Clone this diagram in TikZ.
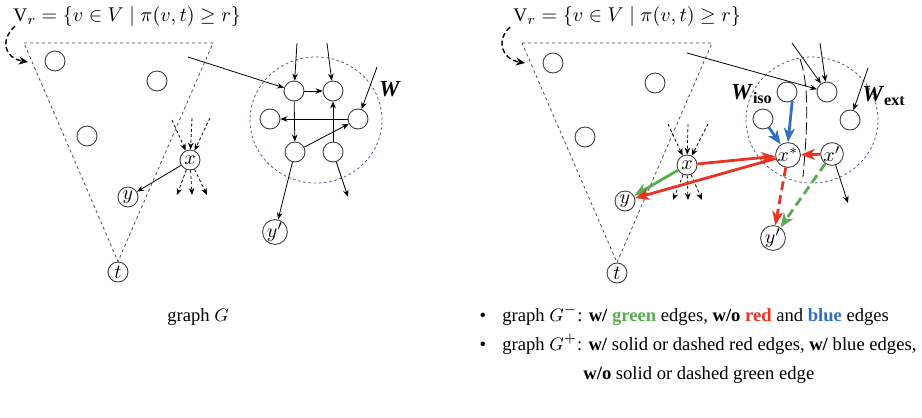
\documentclass[tikz,border=0pt]{standalone}
\usepackage{fontspec}
\setmainfont{Liberation Serif}
\usetikzlibrary{arrows.meta}

\definecolor{edgered}{RGB}{234,51,35}
\definecolor{edgegreen}{RGB}{88,172,82}
\definecolor{edgeblue}{RGB}{52,112,192}
\definecolor{ringblue}{RGB}{82,94,136}

\begin{document}
\begin{tikzpicture}[x=0.5pt, y=-0.5pt, >=Stealth,
    font=\fontsize{9.3}{11.5}\selectfont,
    vert/.style={circle, draw=black!75, line width=0.45pt, minimum size=10pt, inner sep=0pt, font=\fontsize{10}{10}\selectfont},
    tri/.style={draw=black!70, line width=0.4pt, dash pattern=on 1.5pt off 1.5pt},
    ring/.style={draw=ringblue, line width=0.4pt, dash pattern=on 1.3pt off 1.3pt},
    arr/.style={-{Stealth[length=3.5pt, width=2.8pt]}, line width=0.4pt},
    darr/.style={arr, dash pattern=on 1.5pt off 1.2pt},
    curvarr/.style={-{Stealth[length=4.5pt, width=4pt]}, line width=0.7pt, dash pattern=on 2.5pt off 1.5pt},
    boldarr/.style={-{Stealth[length=7pt, width=5.5pt, inset=2pt]}, line width=1.4pt},
    bolddash/.style={boldarr, dash pattern=on 4.5pt off 2.5pt},
    setlabel/.style={font=\fontsize{11.5}{12}\selectfont}]

\useasboundingbox (0,0) rectangle (922,418);

% ---------------- left part: graph G ----------------

% the set V_r and the dashed arrow pointing at the triangle
\node[anchor=base west, inner sep=0pt, font=\fontsize{9.6}{11}\selectfont] (Lvr) at (13,21) {$\mathrm{V}_r = \{v \in V \mid \pi(v,t) \geq r\}$};
\coordinate (Lcs) at (15,26);
\coordinate (Lce) at (28,62);
\draw[curvarr] (Lcs) .. controls (0,40) and (4,58) .. (Lce);

% vertices inside V_r
\node[vert] (Lv1) at (55,61) {};
\node[vert] (Lv2) at (157,81) {};
\node[vert] (Lv3) at (87,136) {};
\node[vert] (Lx) at (190,160) {$x$};
\node[vert] (Ly) at (128,197) {$y$};
\node[vert] (Lt) at (118,272) {$t$};

% dashed triangle for V_r, tip at t
\draw[tri] (24,43) -- (213,43) -- (Lt.north) -- cycle;

% dashed edges into and out of x
\coordinate (Lxi1) at (172,120);
\coordinate (Lxi2) at (192,118);
\coordinate (Lxi3) at (210,118);
\coordinate (Lxo1) at (177,195);
\coordinate (Lxo2) at (192,195);
\coordinate (Lxo3) at (207,195);
\draw[darr] (Lxi1) -- (Lx);
\draw[darr] (Lxi2) -- (Lx);
\draw[darr] (Lxi3) -- (Lx);
\draw[darr] (Lx) -- (Lxo1);
\draw[darr] (Lx) -- (Lxo2);
\draw[darr] (Lx) -- (Lxo3);
\draw[arr] (Lx) -- (Ly);

% the set W
\draw[ring] (316,120) ellipse [x radius=33pt, y radius=31.5pt];
\node[setlabel] (LW) at (390,89) {\textbf{\textit{W}}};
\node[vert] (La) at (294,91) {};
\node[vert] (Lb) at (333,91) {};
\node[vert] (Lc) at (270,119) {};
\node[vert] (Ld) at (358,119) {};
\node[vert] (Le) at (295,152) {};
\node[vert] (Lf) at (333,152) {};
\node[vert] (Lyp) at (275,232) {$y'$};

% edges of W
\coordinate (Lin1) at (188,57);
\coordinate (Lin2) at (297,43);
\coordinate (Lin3) at (327,43);
\coordinate (Lin4) at (377,67);
\coordinate (Lout) at (348,197);
\draw[arr] (Lin1) -- (La);
\draw[arr] (Lin2) -- (La);
\draw[arr] (Lin3) -- (Lb);
\draw[arr] (Lin4) -- (Ld);
\draw[arr] (La) -- (Lb);
\draw[arr] (La) -- (Le);
\draw[arr] (Ld) -- (Lc);
\draw[arr] (Le) -- (Ld);
\draw[arr] (Lf) -- (Lb);
\draw[arr] (Le) -- (Lyp);
\draw[arr] (Lf) -- (Lout);

\node[anchor=base, inner sep=0pt] (Lcap) at (198,321) {graph $G$};

% ---------------- right part: graphs G- and G+ ----------------
\begin{scope}[shift={(498,0)}]

    % the set V_r and the dashed arrow pointing at the triangle
    \node[anchor=base west, inner sep=0pt, font=\fontsize{9.6}{11}\selectfont] (Rvr) at (15,21) {$\mathrm{V}_r = \{v \in V \mid \pi(v,t) \geq r\}$};
    \coordinate (Rcs) at (12,27);
    \coordinate (Rce) at (27,63);
    \draw[curvarr] (Rcs) .. controls (-2,40) and (3,59) .. (Rce);

    % vertices inside V_r
    \node[vert] (Rv1) at (55,63) {};
    \node[vert] (Rv2) at (157,83) {};
    \node[vert] (Rv3) at (87,137) {};
    \node[vert] (Rx) at (189,165) {$x$};
    \node[vert] (Ry) at (127,201) {$y$};
    \node[vert] (Rt) at (119,273) {$t$};

    % dashed triangle for V_r
    \draw[tri] (24,43) -- (214,43) -- (Rt.north) -- cycle;

    % dashed edges into and out of x
    \coordinate (Rxi1) at (170,124);
    \coordinate (Rxi2) at (190,124);
    \coordinate (Rxi3) at (210,124);
    \coordinate (Rxo1) at (175,200);
    \coordinate (Rxo2) at (190,200);
    \coordinate (Rxo3) at (204,200);
    \draw[darr] (Rxi1) -- (Rx);
    \draw[darr] (Rxi2) -- (Rx);
    \draw[darr] (Rxi3) -- (Rx);
    \draw[darr] (Rx) -- (Rxo1);
    \draw[darr] (Rx) -- (Rxo2);
    \draw[darr] (Rx) -- (Rxo3);

    % the set W, split into W_iso and W_ext
    \draw[ring] (314,120) ellipse [x radius=33pt, y radius=31.5pt];
    \draw[line width=0.4pt, dash pattern=on 6pt off 2pt] (302,59) .. controls (313,90) and (308,140) .. (305,177);
    \node[setlabel] (RWiso) at (254,94) {\textbf{\textit{W}}\textsubscript{\bfseries iso}};
    \node[setlabel] (RWext) at (386,96) {\textbf{\textit{W}}\textsubscript{\bfseries ext}};
    \node[vert] (Ra) at (289,92) {};
    \node[vert] (Rc) at (265,119) {};
    \node[vert] (Rxs) at (290,155) {$x^{*}$};
    \node[vert] (Rb) at (329,92) {};
    \node[vert] (Rd) at (352,120) {};
    \node[vert] (Rxp) at (334,154) {$x'$};
    \node[vert] (Ryp) at (275,238) {$y'$};

    % black edges of W
    \coordinate (Rin1) at (189,53);
    \coordinate (Rin2) at (294,43);
    \coordinate (Rin3) at (322,43);
    \coordinate (Rin4) at (370,68);
    \coordinate (Rout) at (350,203);
    \draw[arr] (Rin1) -- (Rb);
    \draw[arr] (Rin2) -- (Rb);
    \draw[arr] (Rin3) -- (Rb);
    \draw[arr] (Rin4) -- (Rd);
    \draw[arr] (Rxp) -- (Rout);

    % blue edges into x*
    \draw[boldarr, edgeblue] (Rc) -- (Rxs);
    \draw[boldarr, edgeblue] (Ra.-60) -- (Rxs.north);

    % green edges
    \draw[boldarr, edgegreen] (Rx) -- (Ry);
    \draw[bolddash, edgegreen] (Rxp) -- (Ryp);

    % red edges
    \draw[boldarr, edgered] (Rx) -- (Rxs);
    \draw[boldarr, edgered] (Rxs) -- (Ry);
    \draw[bolddash, edgered] (Rxp) -- (Rxs);
    \draw[bolddash, edgered] (Rxs) -- (Ryp);

\end{scope}

% legend below the right part
\node[anchor=base, inner sep=0pt] (Bul1) at (483,321) {\textbullet};
\node[anchor=base west, inner sep=0pt] (Leg1) at (502,321) {graph $G^{-}$: \textbf{w/} \textcolor{edgegreen}{\textbf{green}} edges, \textbf{w/o} \textcolor{edgered}{\textbf{red}} and \textcolor{edgeblue}{\textbf{blue}} edges};
\node[anchor=base, inner sep=0pt] (Bul2) at (483,350) {\textbullet};
\node[anchor=base west, inner sep=0pt] (Leg2) at (502,350) {graph $G^{+}$: \textbf{w/} solid or dashed red edges, \textbf{w/} blue edges,};
\node[anchor=base west, inner sep=0pt] (Leg3) at (583,379) {\textbf{w/o} solid or dashed green edge};

\end{tikzpicture}
\end{document}
